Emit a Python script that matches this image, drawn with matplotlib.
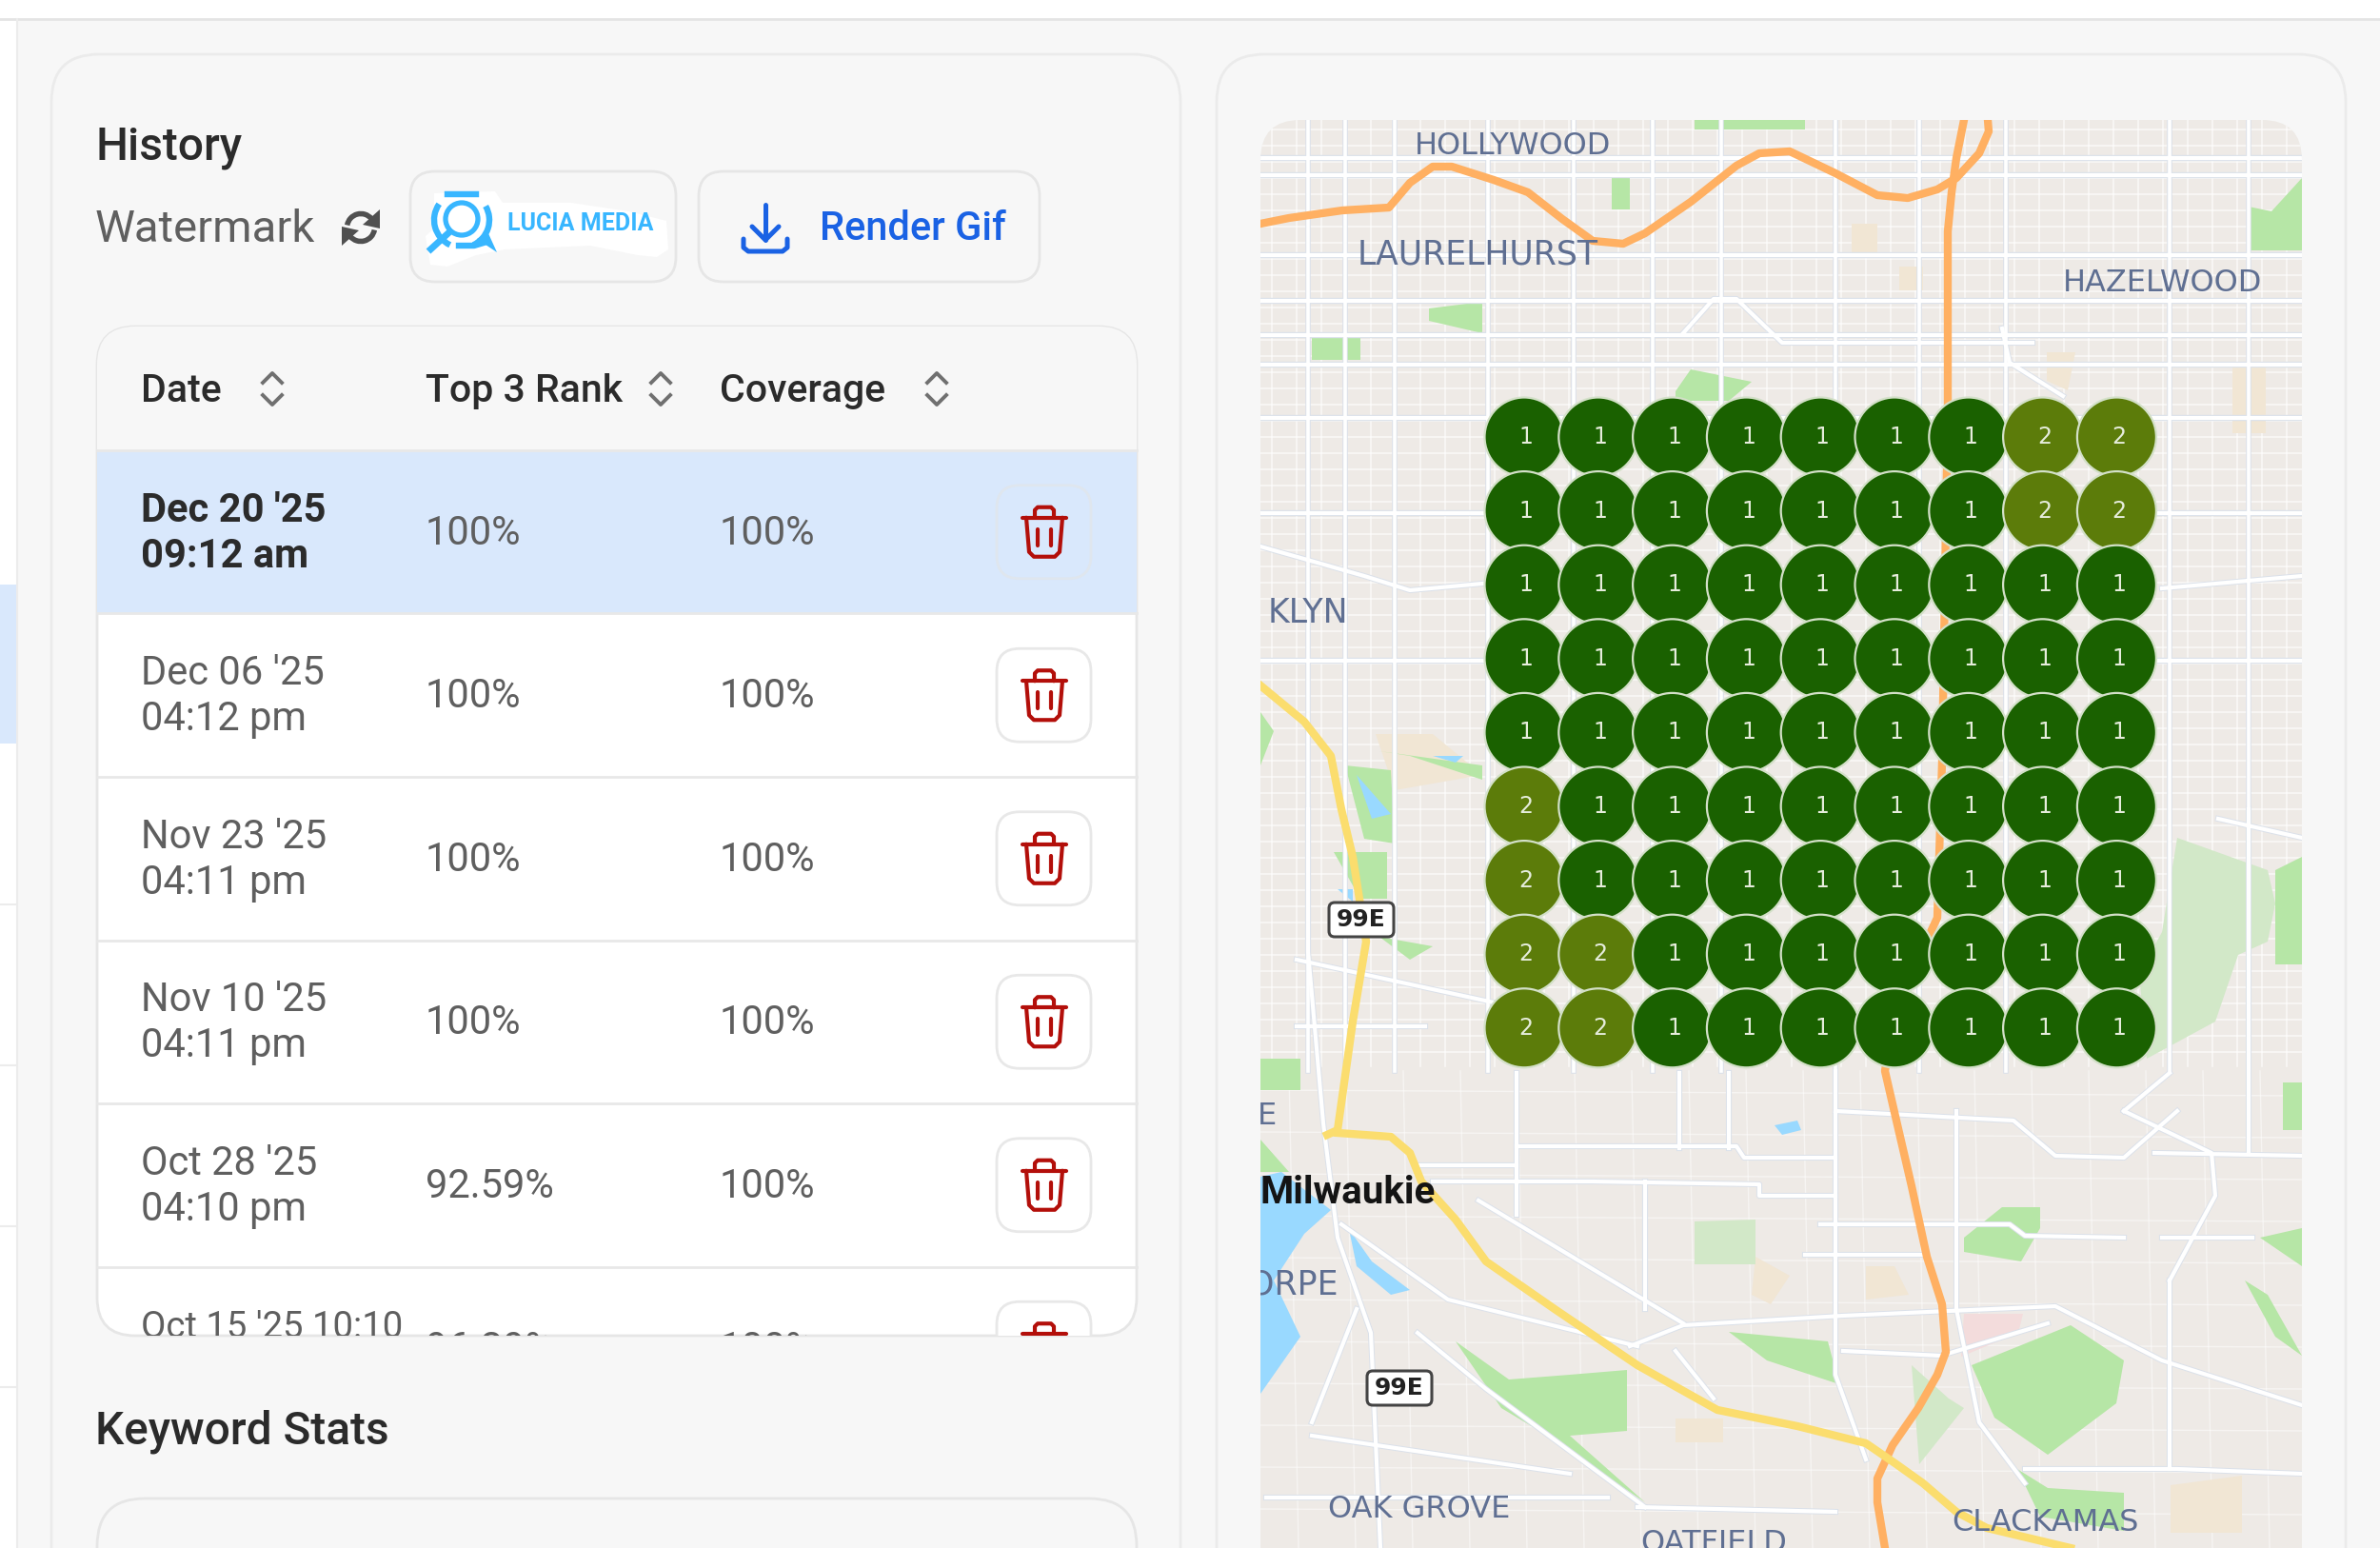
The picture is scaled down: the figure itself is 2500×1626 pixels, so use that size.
import matplotlib
matplotlib.use("Agg")
import matplotlib.pyplot as plt
from matplotlib.patches import FancyBboxPatch, Circle, Polygon, Arc
from matplotlib.transforms import Bbox, TransformedBbox

plt.rcParams['font.family'] = ['Roboto', 'DejaVu Sans']

# ---- table contents ----
date_lines = [("Dec 20 '25", "09:12 am"), ("Dec 06 '25", "04:12 pm"), ("Nov 23 '25", "04:11 pm"),
              ("Nov 10 '25", "04:11 pm"), ("Oct 28 '25", "04:10 pm"), ("Oct 15 '25 10:10", "")]
top3_rank = ["100%", "100%", "100%", "100%", "92.59%", "96.29%"]
coverage = ["100%", "100%", "100%", "100%", "100%", "100%"]
headers = ["Date", "Top 3 Rank", "Coverage"]

# ---- rank grid, top row first ----
rank_grid = [
    [1, 1, 1, 1, 1, 1, 1, 2, 2],
    [1, 1, 1, 1, 1, 1, 1, 2, 2],
    [1, 1, 1, 1, 1, 1, 1, 1, 1],
    [1, 1, 1, 1, 1, 1, 1, 1, 1],
    [1, 1, 1, 1, 1, 1, 1, 1, 1],
    [2, 1, 1, 1, 1, 1, 1, 1, 1],
    [2, 1, 1, 1, 1, 1, 1, 1, 1],
    [2, 2, 1, 1, 1, 1, 1, 1, 1],
    [2, 2, 1, 1, 1, 1, 1, 1, 1],
]

# ---- map in pixels ----
major_h = [166, 184, 268, 316, 352, 383, 439, 539, 694]
major_v = [1374, 1413, 1465, 1563, 1653, 1736, 1808, 1928, 2016, 2107, 2279, 2362]
orange_a = [(1324, 235), (1354, 229), (1410, 221), (1459, 218), (1481, 192), (1505, 175), (1525, 175),
            (1569, 189), (1605, 202), (1641, 230), (1673, 253), (1705, 256), (1728, 245), (1776, 212),
            (1824, 174), (1848, 161), (1880, 159), (1928, 182), (1972, 205), (2004, 208), (2035, 199),
            (2055, 187), (2079, 161), (2089, 138), (2088, 126)]
orange_b = [(2063, 126), (2055, 166), (2050, 202), (2046, 243), (2046, 430), (2040, 800), (2035, 964),
            (1990, 1060), (1980, 1125), (1992, 1177), (2008, 1246), (2024, 1320), (2040, 1370), (2044, 1420),
            (2035, 1444), (2015, 1479), (1988, 1518), (1972, 1553), (1972, 1578), (1980, 1626)]
yellow_a = [(1324, 720), (1370, 758), (1398, 794), (1409, 850), (1421, 900), (1435, 989), (1421, 1073),
            (1405, 1187), (1394, 1192)]
yellow_b = [(1405, 1190), (1461, 1194), (1481, 1211), (1493, 1241), (1529, 1281), (1561, 1325),
            (1633, 1375), (1720, 1434), (1804, 1481), (1888, 1498), (1960, 1516), (1992, 1538),
            (2020, 1558), (2055, 1588), (2087, 1605), (2175, 1626)]
street_paths = [
    [(1324, 574), (1433, 605), (1481, 620), (1557, 613)],
    [(2271, 618), (2418, 605)],
    [(1768, 350), (1800, 314), (1824, 314), (1872, 360), (2135, 360)],
    [(2103, 345), (2111, 381), (2167, 416)],
    [(1593, 1204), (1824, 1204), (1832, 1216), (1928, 1216)],
    [(1489, 1224), (1593, 1224)],
    [(1505, 1241), (1673, 1241), (1848, 1244), (1848, 1256), (1928, 1256)],
    [(1928, 1167), (2115, 1177), (2159, 1214), (2231, 1216), (2287, 1167)],
    [(1912, 1286), (2111, 1286), (2127, 1298), (2231, 1300)],
    [(1896, 1318), (2024, 1318)],
    [(2263, 1211), (2418, 1214)],
    [(2271, 1300), (2366, 1300)],
    [(1928, 1125), (1928, 1444), (1960, 1533)],
    [(2362, 850), (2362, 1211)],
    [(1728, 1241), (1728, 1375)],
    [(1593, 1127), (1593, 1276)],
    [(1764, 1127), (1764, 1206)],
    [(1816, 1127), (1816, 1206)],
    [(1553, 1261), (1768, 1390)],
    [(1712, 1414), (1768, 1392), (1936, 1382), (2159, 1372), (2271, 1429), (2418, 1476)],
    [(1936, 1419), (2039, 1424), (2151, 1390)],
    [(1362, 1078), (1497, 1078)],
    [(1362, 1008), (1569, 1053)],
    [(2055, 1167), (2055, 1375), (2079, 1494), (2127, 1558)],
    [(2279, 1345), (2279, 1543)],
    [(2231, 1167), (2323, 1211), (2327, 1256), (2279, 1345)],
    [(2127, 1543), (2287, 1543), (2418, 1548)],
    [(1720, 1583), (1928, 1588)],
    [(1330, 1573), (1689, 1573)],
    [(1378, 1508), (1649, 1548)],
    [(1378, 1494), (1425, 1375)],
    [(1489, 1400), (1561, 1459), (1728, 1583)],
    [(1409, 1286), (1521, 1365), (1720, 1414)],
    [(1760, 1419), (1800, 1469)],
    [(1374, 850), (1374, 1000), (1390, 1180), (1405, 1300), (1440, 1400), (1450, 1626)],
    [(2279, 1127), (2231, 1167)],
    [(2418, 880), (2330, 860)],
]
parks = [
    [(1693, 187), (1712, 187), (1712, 220), (1693, 220)],
    [(2362, 217), (2386, 222), (2418, 187), (2418, 263), (2362, 263)],
    [(1501, 324), (1557, 317), (1557, 350), (1501, 337)],
    [(1378, 355), (1429, 355), (1429, 378), (1378, 378)],
    [(1760, 411), (1776, 388), (1840, 401), (1816, 421), (1760, 421)],
    [(1780, 126), (1896, 126), (1896, 136), (1780, 136)],
    [(1413, 804), (1461, 809), (1465, 886), (1433, 881)],
    [(1449, 789), (1557, 804), (1557, 819), (1481, 794)],
    [(1324, 748), (1338, 768), (1324, 804)],
    [(2390, 914), (2418, 900), (2418, 1013), (2390, 1013)],
    [(1324, 1112), (1366, 1112), (1366, 1145), (1324, 1145)],
    [(2103, 1268), (2143, 1268), (2143, 1290), (2123, 1325), (2063, 1315), (2063, 1300)],
    [(2398, 1137), (2418, 1137), (2418, 1187), (2398, 1187)],
    [(1816, 1399), (1920, 1409), (1932, 1454), (1856, 1429)],
    [(2071, 1434), (2175, 1392), (2231, 1429), (2223, 1474), (2151, 1528), (2095, 1489)],
    [(2358, 1345), (2382, 1360), (2418, 1424), (2390, 1404)],
    [(2374, 1300), (2418, 1290), (2418, 1330)],
    [(1529, 1409), (1585, 1449), (1649, 1444), (1709, 1439), (1709, 1503), (1649, 1508), (1728, 1578),
     (1617, 1503), (1577, 1479)],
    [(2119, 1543), (2151, 1563), (2231, 1568), (2231, 1608), (2143, 1593)],
    [(1401, 895), (1457, 895), (1457, 944), (1429, 944)],
    [(1449, 984), (1505, 994), (1481, 1008)],
    [(1324, 1197), (1354, 1231), (1324, 1231)],
]
pale_parks = [
    [(2287, 880), (2382, 914), (2390, 949), (2382, 989), (2351, 1003), (2327, 1073), (2255, 1112),
     (2247, 1023), (2271, 979)],
    [(1780, 1283), (1844, 1281), (1844, 1328), (1780, 1328)],
    [(2008, 1434), (2047, 1469), (2063, 1479), (2016, 1538)],
]
water = [
    [(1324, 1236), (1346, 1231), (1398, 1271), (1370, 1296), (1338, 1345), (1366, 1404), (1338, 1444), (1324, 1464)],
    [(1417, 1291), (1441, 1325), (1481, 1355), (1461, 1360), (1425, 1330)],
    [(1864, 1182), (1888, 1177), (1892, 1187), (1872, 1192)],
    [(1405, 934), (1421, 934), (1421, 947)],
    [(1425, 814), (1461, 855), (1441, 860)],
    [(1505, 794), (1537, 794), (1529, 801)],
]
sand = [
    [(1945, 235), (1972, 235), (1972, 265), (1945, 265)],
    [(1995, 280), (2020, 280), (2020, 305), (1995, 305)],
    [(2150, 370), (2180, 370), (2172, 410), (2150, 400)],
    [(2345, 380), (2380, 380), (2380, 455), (2345, 455)],
    [(1445, 771), (1505, 771), (1557, 814), (1465, 830)],
    [(1844, 1320), (1880, 1340), (1860, 1370), (1840, 1360)],
    [(1960, 1330), (1990, 1330), (2005, 1360), (1960, 1365)],
    [(1760, 1490), (1810, 1490), (1810, 1515), (1760, 1515)],
    [(2280, 1560), (2355, 1550), (2355, 1610), (2280, 1610)],
]
pink = [[(2063, 1380), (2125, 1380), (2120, 1400), (2060, 1425)]]
map_labels = [("HOLLYWOOD", 1589, 154, 23), ("LAURELHURST", 1552, 267, 25), ("HAZELWOOD", 2272, 297, 23),
              ("KLYN", 1374, 644, 25), ("E", 1331, 1172, 23), ("ORPE", 1358, 1349, 25),
              ("OAK GROVE", 1491, 1585, 23), ("CLACKAMAS", 2148, 1599, 23), ("OATFIELD", 1800, 1621, 23)]
shields = [("99E", 1430, 966), ("99E", 1470, 1458)]

BG = '#f7f7f7'
TEXT_DARK = '#2b2b2b'
TEXT_GRAY = '#5f5f5f'
BLUE = '#1a62e4'
LOGO = '#38b6ff'
RED = '#b30f0a'

fig = plt.figure(figsize=(25, 16.26), dpi=100, facecolor=BG)
ax = fig.add_axes([0, 0, 1, 1])
ax.set_xlim(0, 2500)
ax.set_ylim(1626, 0)
ax.axis('off')


def rbox(x0, y0, x1, y1, r, fc, ec='none', lw=2, z=1):
    p = FancyBboxPatch((x0, y0), x1 - x0, y1 - y0, boxstyle=f"round,pad=0,rounding_size={r}",
                       fc=fc, ec=ec, lw=lw, zorder=z)
    ax.add_patch(p)
    return p


def clip_text(t, x0, y0, x1, y1):
    # agg ignores clip paths on text, only the box works
    t.set_clip_on(True)
    t.set_clip_box(TransformedBbox(Bbox([[x0, y0], [x1, y1]]), ax.transData))


# ---- page frame ----
ax.fill_between([0, 2500], 0, 19, color='white', lw=0, zorder=0)
ax.plot([0, 2500], [20, 20], color='#e4e4e4', lw=2, zorder=1)
ax.fill_between([0, 17], 20, 1626, color='white', lw=0, zorder=0)
ax.plot([18, 18], [20, 1626], color='#ececec', lw=1.5, zorder=1)
ax.fill_between([0, 17], 614, 781, color='#d9e8fc', lw=0, zorder=1)
for y in [950, 1119, 1288, 1457]:
    ax.plot([0, 17], [y, y], color='#ececec', lw=1.5, zorder=1)

rbox(54, 57, 1240, 1700, 50, BG, '#ebebeb', 2)
rbox(1278, 57, 2464, 1700, 50, BG, '#ebebeb', 2)

# ---- left header ----
ax.text(100, 168, "History", fontsize=34.5, color=TEXT_DARK, weight='medium', va='baseline', zorder=5)
ax.text(100, 254, "Watermark", fontsize=34, color=TEXT_GRAY, va='baseline', zorder=5)

# refresh icon
ax.add_patch(Arc((379, 239), 29, 29, theta1=190, theta2=320, color='#505050', lw=4, zorder=5))
ax.add_patch(Arc((379, 239), 29, 29, theta1=10, theta2=140, color='#505050', lw=4, zorder=5))
ax.add_patch(Polygon([(399, 220), (399, 240), (381, 236)], fc='#505050', zorder=5))
ax.add_patch(Polygon([(359, 258), (359, 238), (377, 242)], fc='#505050', zorder=5))

rbox(431, 180, 710, 296, 26, BG, '#e6e6e6', 2)
rbox(734, 180, 1092, 296, 26, BG, '#e6e6e6', 2)

# logo with its white backing
ax.add_patch(Polygon([(447, 248), (456, 240), (456, 203), (520, 201), (528, 213), (600, 213), (660, 222),
                      (700, 232), (702, 262), (690, 270), (670, 268), (620, 258), (530, 262), (500, 268),
                      (470, 280), (452, 278)], fc='white', zorder=2))
ax.add_patch(Arc((485, 231), 58, 58, theta1=-30, theta2=65, color=LOGO, lw=4.6, zorder=3))
ax.add_patch(Arc((485, 231), 58, 58, theta1=115, theta2=215, color=LOGO, lw=4.6, zorder=3))
ax.plot([470, 500], [204, 204], color=LOGO, lw=4.6, zorder=3)
ax.plot([482, 498, 508], [258, 258, 255], color=LOGO, lw=4.6, zorder=3)
ax.add_patch(Circle((485, 230), 17, fc='white', ec=LOGO, lw=3.8, zorder=3))
ax.plot([473, 450], [243, 264], color=LOGO, lw=5, solid_capstyle='butt', zorder=3)
ax.add_patch(Polygon([(501, 251), (512, 243), (522, 265)], fc=LOGO, zorder=3))
ax.text(533, 242, "LUCIA MEDIA", fontsize=18, color=LOGO, weight='bold', va='baseline', zorder=4)

# download icon
ax.plot([804, 804], [215, 252], color=BLUE, lw=3.6, solid_capstyle='round', zorder=5)
ax.plot([790, 804, 818], [238, 252, 238], color=BLUE, lw=3.6, solid_capstyle='round',
        solid_joinstyle='round', zorder=5)
ax.plot([781, 781, 786, 822, 827, 827], [251, 260, 264, 264, 260, 251], color=BLUE, lw=3.6,
        solid_capstyle='round', solid_joinstyle='round', zorder=5)
ax.text(861, 252, "Render Gif", fontsize=30, color=BLUE, weight='medium', va='baseline', zorder=5)

# ---- history table ----
TX0, TX1, TY0, TY1 = 102, 1194, 343, 1403
table = rbox(TX0, TY0, TX1, TY1, 40, 'white', '#e6e6e6', 2, z=2)
col_x = [148, 447, 756]
caret_x = [286, 694, 984]
row_top = 473
row_h = 171.5

head = ax.fill_between([TX0, TX1], TY0, row_top, color=BG, lw=0, zorder=2.1)
head.set_clip_path(table)
for name, x, cx in zip(headers, col_x, caret_x):
    ax.text(x, 422, name, fontsize=29.5, color=TEXT_DARK, weight='medium', va='baseline', zorder=5)
    ax.plot([cx - 10, cx, cx + 10], [402, 392, 402], color='#707070', lw=2.8, zorder=5)
    ax.plot([cx - 10, cx, cx + 10], [415, 425, 415], color='#707070', lw=2.8, zorder=5)

for i in range(len(date_lines)):
    top = row_top + i * row_h
    cy = top + row_h / 2
    selected = i == 0
    if selected:
        band = ax.fill_between([TX0, TX1], top, top + row_h, color='#d9e8fc', lw=0, zorder=2.2)
        band.set_clip_path(table)
    ax.plot([TX0, TX1], [top, top], color='#e8e8e8', lw=2, zorder=2.3)
    color = TEXT_DARK if selected else TEXT_GRAY
    weight = 'bold' if selected else 'normal'
    date_size = 30 if date_lines[i][1] else 27.5
    texts = [
        ax.text(col_x[0], cy - 11, date_lines[i][0], fontsize=date_size, color=color, weight=weight,
                va='baseline', zorder=5),
        ax.text(col_x[1], cy + 13, top3_rank[i], fontsize=30, color=TEXT_GRAY, va='baseline', zorder=5),
        ax.text(col_x[2], cy + 13, coverage[i], fontsize=30, color=TEXT_GRAY, va='baseline', zorder=5),
    ]
    if date_lines[i][1]:
        texts.append(ax.text(col_x[0], cy + 37, date_lines[i][1], fontsize=30, color=color, weight=weight,
                             va='baseline', zorder=5))
    for t in texts:
        clip_text(t, TX0, TY0, TX1, TY1)

    # delete button
    fc = '#d9e8fc' if selected else 'white'
    btn = rbox(1047, cy - 49, 1146, cy + 49, 24, fc, '#dfe6ee' if selected else '#e8e8e8', 2, z=3)
    btn.set_clip_path(table)
    bx = 1097
    parts = [
        ([bx - 23, bx + 23], [cy - 15, cy - 15]),
        ([bx - 10, bx - 10, bx - 7, bx + 7, bx + 10, bx + 10],
         [cy - 15, cy - 23, cy - 26, cy - 26, cy - 23, cy - 15]),
        ([bx - 19, bx - 16, bx - 11, bx + 11, bx + 16, bx + 19],
         [cy - 15, cy + 21, cy + 26, cy + 26, cy + 21, cy - 15]),
        ([bx - 7, bx - 7], [cy - 3, cy + 14]),
        ([bx + 7, bx + 7], [cy - 3, cy + 14]),
    ]
    for xs, ys in parts:
        ln, = ax.plot(xs, ys, color=RED, lw=3, solid_capstyle='round', solid_joinstyle='round', zorder=5)
        ln.set_clip_path(table)

ax.text(100, 1516, "Keyword Stats", fontsize=34.5, color=TEXT_DARK, weight='medium', va='baseline', zorder=5)
rbox(102, 1574, 1194, 1720, 50, BG, '#e6e6e6', 2)

# ---- map ----
MX0, MX1, MY0, MY1 = 1324, 2418, 126, 1700
map_bg = rbox(MX0, MY0, MX1, MY1, 42, '#eeeae6', 'none', 0, z=2)
drawn = []

# minor street texture, denser in the north than the south
for x in range(MX0 + 12, MX1, 26):
    drawn.append(ax.plot([x, x], [MY0, 1120], color='white', lw=1.1, alpha=0.7, zorder=2.1)[0])
for y in range(MY0 + 10, 1120, 17):
    drawn.append(ax.plot([MX0, MX1], [y, y], color='white', lw=1.1, alpha=0.7, zorder=2.1)[0])
for x in range(MX0 + 30, MX1, 60):
    drawn.append(ax.plot([x, x + 10], [1125, 1626], color='white', lw=1, alpha=0.5, zorder=2.1)[0])
for y in range(1145, 1626, 44):
    drawn.append(ax.plot([MX0, MX1], [y, y + 6], color='white', lw=1, alpha=0.5, zorder=2.1)[0])

for pts in sand:
    drawn.append(ax.add_patch(Polygon(pts, fc='#f1e6d4', ec='none', zorder=2.2)))
for pts in pink:
    drawn.append(ax.add_patch(Polygon(pts, fc='#f3dcdc', ec='none', zorder=2.2)))
for pts in pale_parks:
    drawn.append(ax.add_patch(Polygon(pts, fc='#d2e8c8', ec='none', zorder=2.25)))
for pts in parks:
    drawn.append(ax.add_patch(Polygon(pts, fc='#b6e6a6', ec='none', zorder=2.3)))
for pts in water:
    drawn.append(ax.add_patch(Polygon(pts, fc='#99d9ff', ec='none', zorder=2.4)))

# main streets with a faint blue casing
for y in major_h:
    drawn.append(ax.plot([MX0, MX1], [y, y], color='#dbe1ea', lw=4.6, zorder=2.5)[0])
    drawn.append(ax.plot([MX0, MX1], [y, y], color='white', lw=3, zorder=2.6)[0])
for x in major_v:
    drawn.append(ax.plot([x, x], [MY0, 1125], color='#dbe1ea', lw=4, zorder=2.5)[0])
    drawn.append(ax.plot([x, x], [MY0, 1125], color='white', lw=2.6, zorder=2.6)[0])
for pts in street_paths:
    xs, ys = zip(*pts)
    drawn.append(ax.plot(xs, ys, color='#dbe1ea', lw=4.4, zorder=2.5)[0])
    drawn.append(ax.plot(xs, ys, color='white', lw=3, zorder=2.6)[0])

for pts, col in [(orange_a, '#ffb062'), (orange_b, '#ffb062'), (yellow_a, '#fbdd6e'), (yellow_b, '#fbdd6e')]:
    xs, ys = zip(*pts)
    drawn.append(ax.plot(xs, ys, color=col, lw=6, solid_joinstyle='round', zorder=2.8)[0])

for artist in drawn:
    artist.set_clip_path(map_bg)

for name, x, y, size in map_labels:
    lbl = ax.text(x, y, name, fontsize=size, color='#5f6f92', family='DejaVu Sans',
                  ha='center', va='center', zorder=2.9)
    clip_text(lbl, MX0, MY0, MX1, 1626)
lbl = ax.text(1324, 1264, "Milwaukie", fontsize=29, color='#141414', weight='bold',
              ha='left', va='baseline', zorder=2.9)
clip_text(lbl, MX0, MY0, MX1, 1626)
for name, x, y in shields:
    rbox(x - 34, y - 18, x + 34, y + 18, 6, 'white', '#444444', 2.2, z=2.9)
    ax.text(x, y, name, fontsize=18, color='#222222', weight='bold', family='DejaVu Sans',
            ha='center', va='center', zorder=3)

# rank circles
grid_x0, grid_dx = 1601, 77.8
grid_y0, grid_dy = 459, 77.6
rank_colors = {1: '#1a6100', 2: '#5c7c0a'}
for r, row in enumerate(rank_grid):
    for c, rank in enumerate(row):
        cx = grid_x0 + c * grid_dx
        cy = grid_y0 + r * grid_dy
        ax.add_patch(Circle((cx, cy), 41.5, fc=rank_colors[rank], ec='#d3e0c8', lw=1.6, zorder=6))
        ax.text(cx + 2, cy, str(rank), fontsize=17, color='#e6eddc', family='DejaVu Sans',
                ha='center', va='center', zorder=7)

fig.savefig('out.png', dpi=100, facecolor=BG)
